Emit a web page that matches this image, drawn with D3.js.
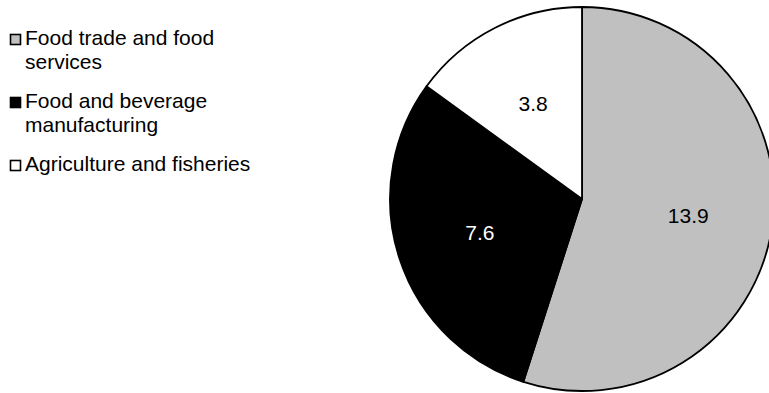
<!DOCTYPE html>
<html>
<head>
<meta charset="utf-8">
<script src="https://cdn.jsdelivr.net/npm/d3@7"></script>
<style>
  body { margin: 0; background: #fff; }
  svg { display: block; font-family: "Liberation Sans", Arial, sans-serif; }
</style>
</head>
<body>
<svg id="chart" width="769" height="393"></svg>
<script>
// data
const categories = ["Food trade and food services", "Food and beverage manufacturing", "Agriculture and fisheries"];
const values = [13.9, 7.6, 3.8];
const fills = ["#c0c0c0", "#000000", "#ffffff"];
const labelColors = ["#000000", "#ffffff", "#000000"];

const width = 769, height = 393;
const cx = 582, cy = 199, radius = 192;
const fontSize = 21;

const svg = d3.select("#chart");

const pie = d3.pie().sort(null).value(d => d.value);
const arcs = pie(categories.map((c, i) => ({ name: c, value: values[i], i: i })));

const arc = d3.arc().innerRadius(0).outerRadius(radius);
const labelArc = d3.arc().innerRadius(radius * 0.56).outerRadius(radius * 0.56);

const g = svg.append("g").attr("transform", `translate(${cx},${cy})`);

g.selectAll("path.slice")
    .data(arcs)
    .enter()
    .append("path")
    .attr("class", "slice")
    .attr("d", arc)
    .attr("fill", d => fills[d.data.i])
    .attr("stroke", "#000")
    .attr("stroke-width", 1.8)
    .attr("stroke-linejoin", "round");

g.selectAll("text.val")
    .data(arcs)
    .enter()
    .append("text")
    .attr("class", "val")
    .attr("transform", d => `translate(${labelArc.centroid(d)})`)
    .attr("text-anchor", "middle")
    .attr("dy", "0.36em")
    .attr("font-size", fontSize)
    .attr("fill", d => labelColors[d.data.i])
    .text(d => d.data.value.toFixed(1));

// legend
const legend = svg.append("g");
const lineH = 23.5;
const wrapWidth = 235;
let baseY = 45;

categories.forEach((c, i) => {
    const item = legend.append("g");
    item.append("rect")
        .attr("x", 10.5)
        .attr("y", baseY - 10.5)
        .attr("width", 10)
        .attr("height", 10)
        .attr("fill", fills[i])
        .attr("stroke", "#000")
        .attr("stroke-width", 1.6);

    const text = item.append("text")
        .attr("x", 25)
        .attr("y", baseY)
        .attr("font-size", fontSize)
        .attr("fill", "#000");

    // simple word wrap, but keep the line breaks of the original legend
    const words = c.split(" ");
    let line = [];
    let tspan = text.append("tspan").attr("x", 25).attr("y", baseY);
    let nLines = 1;
    words.forEach(w => {
        line.push(w);
        tspan.text(line.join(" "));
        if (tspan.node().getComputedTextLength() > wrapWidth && line.length > 1) {
            line.pop();
            tspan.text(line.join(" "));
            line = [w];
            tspan = text.append("tspan")
                .attr("x", 25)
                .attr("y", baseY + nLines * lineH)
                .text(w);
            nLines++;
        }
    });

    baseY += nLines * lineH + 16;
});
</script>
</body>
</html>
